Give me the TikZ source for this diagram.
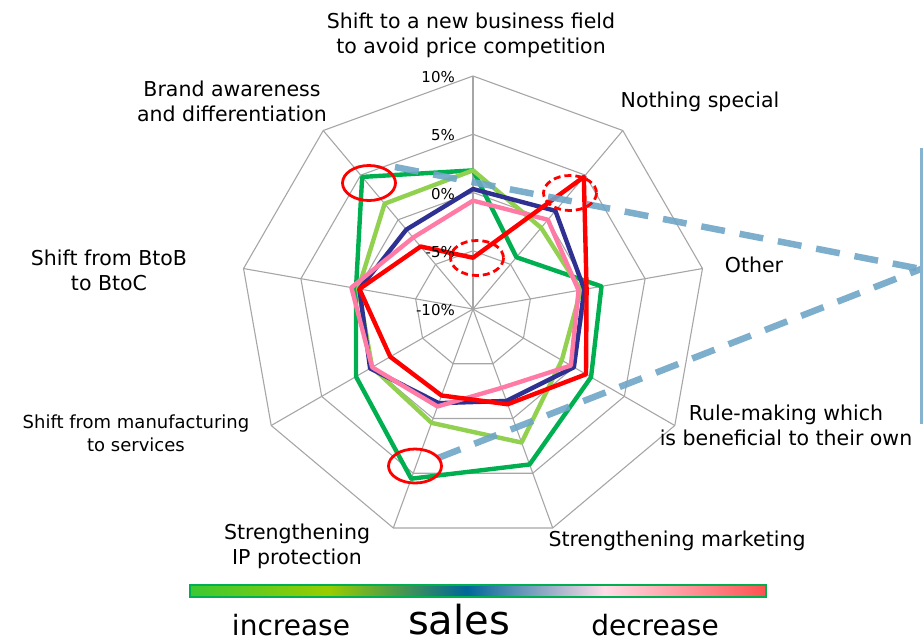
\documentclass[tikz,border=0pt]{standalone}
\usepackage{fontspec}
\setmainfont{DejaVu Sans}
\usetikzlibrary{calc,positioning}
\definecolor{dgreen}{HTML}{00B050}
\definecolor{lgreen}{HTML}{92D050}
\definecolor{navy}{HTML}{2E3192}
\definecolor{rosa}{HTML}{FF7BA6}
\definecolor{gridgray}{HTML}{A6A6A6}
\definecolor{callout}{HTML}{6FA6C8}
\definecolor{barA}{HTML}{3CC832}
\definecolor{barB}{HTML}{99CC00}
\definecolor{barC}{HTML}{006699}
\definecolor{barD}{HTML}{FFDDE8}
\definecolor{barE}{HTML}{FF5050}
\pgfdeclarehorizontalshading{salesbar}{100bp}{color(0bp)=(barA); color(25bp)=(barA);
  color(37bp)=(barB); color(49bp)=(barC); color(61bp)=(barD); color(75bp)=(barE); color(100bp)=(barE)}

\newcommand\radarline[2]{%
  \foreach \v [count=\k from 0] in {#2}
    \coordinate (p\k) at (-90+40*\k:{11.65*(\v+10)});
  \draw[series,#1] (p0)--(p1)--(p2)--(p3)--(p4)--(p5)--(p6)--(p7)--(p8)--cycle;}

\begin{document}
\begin{tikzpicture}[x=1pt,y=-1pt,
    grid/.style={draw=gridgray, line width=1.1pt},
    series/.style={line width=4.4pt, line join=round},
    lbl/.style={font=\fontsize{20.5}{25}\selectfont, align=center, inner sep=0pt},
    pct/.style={font=\fontsize{15}{16}\selectfont, anchor=east, inner sep=0pt},
    mark ring/.style={draw=red, line width=2.8pt},
    zoomline/.style={draw=callout, line width=6.5pt, dash pattern=on 24pt off 15pt, opacity=0.9}]
\useasboundingbox (0,0) rectangle (923,643);

\begin{scope}[shift={(473,309)}]
  \foreach \r in {58.25,116.5,174.75,233}
    \draw[grid] (-90:\r) -- (-50:\r) -- (-10:\r) -- (30:\r) -- (70:\r) -- (110:\r) -- (150:\r) -- (190:\r) -- (230:\r) -- cycle;
  \foreach \a in {-90,-50,...,230}
    \draw[grid] (0,0) -- (\a:233);

  \radarline{dgreen}{1.9,-4.2,1.2,1.7,4.2,5.5,1.6,0.2,4.8}
  \radarline{lgreen}{1.9,-0.9,-0.6,-1.2,2.2,0.4,0.0,0.0,1.8}
  \radarline{navy}{0.3,1.0,-0.3,0.0,-1.6,-1.4,0.2,-0.1,-1.1}
  \radarline{rosa}{-0.7,0.0,-0.8,-0.3,-2.8,-1.1,0.0,0.6,-2.0}
  \radarline{red}{-5.6,4.8,-0.1,1.2,-1.3,-2.1,-1.8,-0.1,-3.0}
\end{scope}

\node[pct] (p10) at (455,77) {10\%};
\node[pct] (p5) at (455,135) {5\%};
\node[pct] (p0) at (455,194) {0\%};
\node[pct] (pm5) at (455,252) {-5\%};
\node[pct] (pm10) at (455,310) {-10\%};

\node[lbl] (newfield) at (471,35) {Shift to a new business field\\to avoid price competition};
\node[lbl] (nothing) at (700,102) {Nothing special};
\node[lbl] (other) at (754,265) {Other};
\node[lbl] (rules) at (786,425) {Rule-making which\\is beneficial to their own};
\node[lbl] (marketing) at (677,541) {Strengthening marketing};
\node[lbl] (ip) at (297,546) {Strengthening\\IP protection};
\node[lbl, font=\fontsize{18}{23}\selectfont] (services) at (136,433) {Shift from manufacturing\\to services};
\node[lbl] (btoc) at (109,270) {Shift from BtoB\\to BtoC};
\node[lbl] (brand) at (232,101) {Brand awareness\\and differentiation};

\coordinate (top) at (395,167);
\coordinate (low) at (438,458);
\coordinate (tip) at (921,269);
\draw[zoomline] (top) -- (tip);
\draw[zoomline] (low) -- (tip);
\draw[callout!85, line width=2.2pt] (921.5,148) -- (921.5,424);

\draw[mark ring] (369,183) ellipse (26.5 and 17.5);
\draw[mark ring] (415,466) ellipse (26.5 and 17);
\draw[mark ring, dash pattern=on 7pt off 4pt] (570,193) ellipse (26.5 and 17.5);
\draw[mark ring, dash pattern=on 7pt off 4pt] (477,258) ellipse (26.5 and 17.5);

\shade[shading=salesbar, draw=dgreen, line width=1.5pt] (190,585) rectangle (766,597);
\node[font=\fontsize{28}{30}\selectfont] (inc) at (291,625) {increase};
\node[font=\fontsize{40}{42}\selectfont] (sales) at (459,620) {sales};
\node[font=\fontsize{28}{30}\selectfont] (dec) at (655,625) {decrease};
\end{tikzpicture}
\end{document}
